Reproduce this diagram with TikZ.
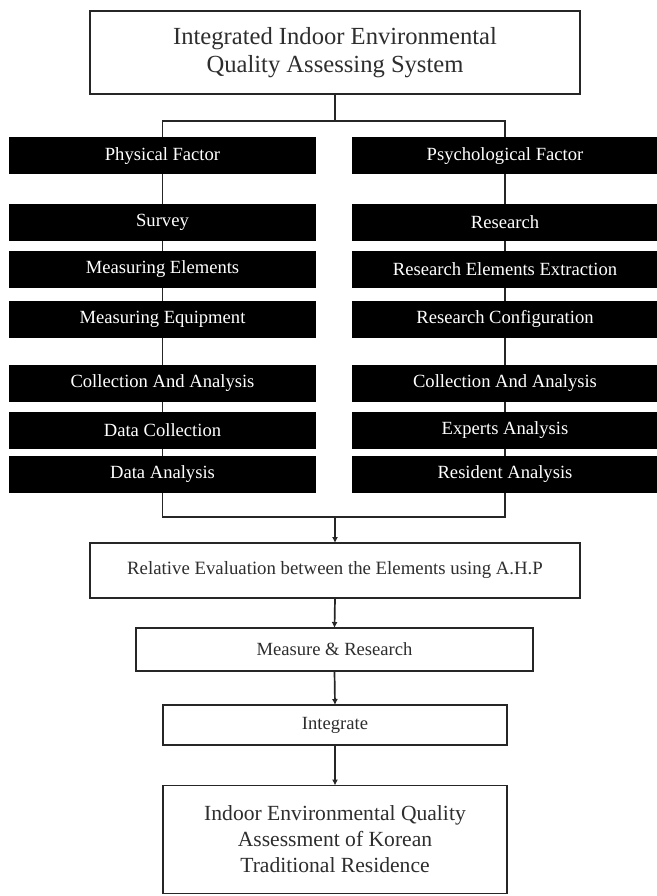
\documentclass[tikz,border=0pt]{standalone}
\usepackage{fontspec}
\setmainfont{Liberation Serif}
\usetikzlibrary{arrows.meta}
\definecolor{txt}{HTML}{2E2E2E}
\begin{document}
\begin{tikzpicture}[x=1pt,y=-1pt,
  wbox/.style={draw=black!85, line width=1.8pt, fill=white, inner sep=0pt, outer sep=0pt, text=txt, align=center},
  bbox/.style={fill=black, inner sep=0pt, outer sep=0pt, text=white, font=\fontsize{18.6}{22}\selectfont, minimum height=37pt},
  lcol/.style={bbox, minimum width=307pt},
  rcol/.style={bbox, minimum width=306pt},
  conn/.style={line width=1.7pt, draw=black!85},
  arr/.style={conn, -{Latex[length=6pt,width=6pt]}}]
\useasboundingbox (0,0) rectangle (656,896);
\fill[white] (0,0) rectangle (656,896);

\node[wbox, minimum width=490pt, minimum height=83pt, font=\fontsize{24.6}{28}\selectfont] (top) at (335,52.5) {Integrated Indoor Environmental\\Quality Assessing System};

% left column
\node[lcol] (l1) at (162.5,156) {Physical Factor};
\node[lcol] (l2) at (162.5,222) {Survey};
\node[lcol] (l3) at (162.5,269.5) {Measuring Elements};
\node[lcol] (l4) at (162.5,319) {Measuring Equipment};
\node[lcol] (l5) at (162.5,383.5) {Collection And Analysis};
\node[lcol] (l6) at (162.5,430.5) {Data Collection};
\node[lcol] (l7) at (162.5,474.5) {Data Analysis};

% right column
\node[rcol] (r1) at (505,156) {Psychological Factor};
\node[rcol] (r2) at (505,222) {Research};
\node[rcol] (r3) at (505,269.5) {Research Elements Extraction};
\node[rcol] (r4) at (505,319) {Research Configuration};
\node[rcol] (r5) at (505,383.5) {Collection And Analysis};
\node[rcol] (r6) at (505,430.5) {Experts Analysis};
\node[rcol] (r7) at (505,474.5) {Resident Analysis};

% lower chain
\node[wbox, minimum width=490pt, minimum height=55pt, font=\fontsize{18.8}{22}\selectfont] (rel) at (335,570.5) {Relative Evaluation between the Elements using A.H.P};
\node[wbox, minimum width=397pt, minimum height=43pt, font=\fontsize{18.6}{22}\selectfont] (meas) at (334.5,649.5) {Measure \& Research};
\node[wbox, minimum width=344pt, minimum height=40pt, font=\fontsize{18.6}{22}\selectfont] (integ) at (335,725) {Integrate};
\node[wbox, minimum width=344pt, minimum height=108pt, font=\fontsize{21.6}{26}\selectfont] (fin) at (335,839.5) {Indoor Environmental Quality\\Assessment of Korean\\Traditional Residence};

% connectors
\coordinate (jt) at (335,121);
\coordinate (jb) at (335,517);
\draw[conn] (top.south) -- (jt);
\draw[conn] (jt) -| (l1.north);
\draw[conn] (jt) -| (r1.north);
\foreach \a/\b in {1/2,2/3,3/4,4/5,5/6,6/7}{
  \draw[conn] (l\a.south) -- (l\b.north);
  \draw[conn] (r\a.south) -- (r\b.north);
}
\draw[conn] (l7.south) |- (jb);
\draw[conn] (r7.south) |- (jb);
\draw[arr] (jb) -- (rel.north);
\draw[arr] (rel.south) -- (meas.north);
\draw[arr] (meas.south) -- (integ.north);
\draw[arr] (integ.south) -- (fin.north);
\end{tikzpicture}
\end{document}
